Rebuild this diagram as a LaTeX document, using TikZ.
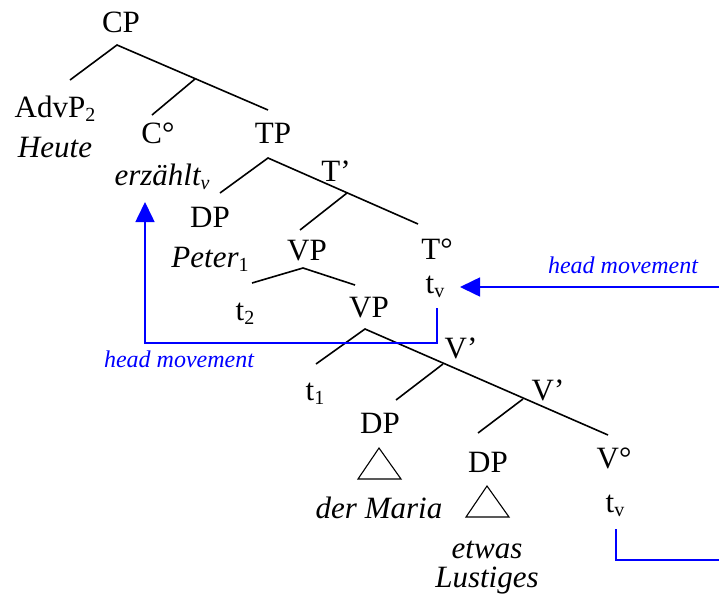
\documentclass[tikz,border=0pt]{standalone}
\usepackage{fontspec}
\setmainfont{Liberation Serif}
\usetikzlibrary{arrows.meta}
% lowered, smaller index (AdvP_2, t_v, ...)
\newcommand\idx[1]{\raisebox{-4pt}{\fontsize{20}{20}\selectfont #1}}

\begin{document}
\begin{tikzpicture}[x=1pt,y=1pt]
        \tikzstyle{cat}=[anchor=base, inner sep=0pt, font=\fontsize{31}{36}\selectfont]
        \tikzstyle{word}=[cat, font=\fontsize{31}{36}\selectfont\itshape]
        \tikzstyle{branch}=[line width=1.6pt, black]
        \tikzstyle{roof}=[line width=1.1pt, black, line join=miter]
        \tikzstyle{move}=[line width=1.6pt, blue, -{Triangle[length=20pt,width=19pt]}]
        \tikzstyle{movelabel}=[anchor=base, inner sep=0pt, blue, font=\fontsize{24}{28}\selectfont\itshape]
        \useasboundingbox (0,0) rectangle (719,-600);
        \clip (0,0) rectangle (719,-600);

        % category labels and words
        \node [cat] (cp) at (121,-32) {CP};
        \node [cat] (advp) at (55,-117) {AdvP\idx{2}};
        \node [word] (heute) at ([yshift=-40pt]advp.base) {Heute};
        \node [cat] (c) at (158,-143) {C°};
        \node [word] (erz) at ([yshift=-42pt]c.base -| 162,0) {erzählt\idx{v}};
        \node [cat] (tp) at (273,-143) {TP};
        \node [cat] (dp1) at (210,-227) {DP};
        \node [word] (peter) at ([yshift=-40pt]dp1.base) {Peter\idx{\upshape 1}};
        \node [cat] (tbar) at (336,-181) {T’};
        \node [cat] (vp1) at (307,-260) {VP};
        \node [cat] (tdeg) at (437,-259) {T°};
        \node [cat] (tv1) at (435,-293) {t\idx{v}};
        \node [cat] (t2) at (245,-320) {t\idx{2}};
        \node [cat] (vp2) at (369,-317) {VP};
        \node [cat] (t1) at (315,-400) {t\idx{1}};
        \node [cat] (vbar1) at (461,-358) {V’};
        \node [cat] (dp2) at (380,-433) {DP};
        \node [cat] (vbar2) at (548,-400) {V’};
        \node [cat] (dp3) at (488,-472) {DP};
        \node [cat] (vdeg) at (614,-468) {V°};
        \node [cat] (tv2) at (615,-512) {t\idx{v}};
        \node [word] (maria) at (379,-518) {der Maria};
        \node [word] (etwas) at (487,-558) {etwas};
        \node [word] (lustiges) at ([yshift=-29pt]etwas.base) {Lustiges};

        % branch points
        \coordinate (cp-r) at (117,-45);
        \coordinate (cp-m) at (195,-79);
        \coordinate (advp-t) at (70,-80);
        \coordinate (c-t) at (152,-115);
        \coordinate (tp-t) at (268,-110);
        \coordinate (tp-r) at (268,-158);
        \coordinate (tbar-r) at (347,-193);
        \coordinate (dp1-t) at (220,-193);
        \coordinate (tdeg-t) at (418,-224);
        \coordinate (vp1-t) at (300,-230);
        \coordinate (vp1-r) at (303,-268);
        \coordinate (t2-t) at (252,-283);
        \coordinate (vp2-t) at (355,-285);
        \coordinate (vp2-r) at (365,-329);
        \coordinate (t1-t) at (316,-364);
        \coordinate (vbar1-r) at (443,-364);
        \coordinate (dp2-t) at (396,-400);
        \coordinate (vbar2-r) at (523,-399);
        \coordinate (dp3-t) at (478,-433);
        \coordinate (vdeg-t) at (608,-435);

        \draw [branch] (advp-t) -- (cp-r) -- (tp-t);
        \draw [branch] (cp-m) -- (c-t);
        \draw [branch] (dp1-t) -- (tp-r) -- (tdeg-t);
        \draw [branch] (tbar-r) -- (vp1-t);
        \draw [branch] (t2-t) -- (vp1-r) -- (vp2-t);
        \draw [branch] (t1-t) -- (vp2-r) -- (vdeg-t);
        \draw [branch] (vbar1-r) -- (dp2-t);
        \draw [branch] (vbar2-r) -- (dp3-t);

        % roofs
        \draw [roof] (379,-448) -- (358,-479) -- (401,-479) -- cycle;
        \draw [roof] (487,-486) -- (466,-517) -- (509,-517) -- cycle;

        % head movement
        \coordinate (tv1-b) at (437,-308);
        \coordinate (tv1-r) at (460,-287);
        \coordinate (tv2-b) at (616,-529);
        \coordinate (erz-b) at (145,-202);
        \draw [move] (tv1-b) -- ++(0,-35) -| (erz-b);
        \draw [move] (tv2-b) -- ++(0,-31) -- ++(114,0) |- (tv1-r);
        \node [movelabel] (mv1) at (179,-367) {head movement};
        \node [movelabel] (mv2) at (623,-273) {head movement};
\end{tikzpicture}
\end{document}
